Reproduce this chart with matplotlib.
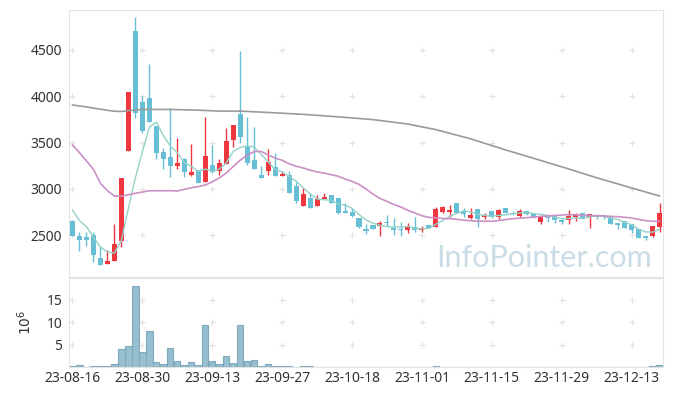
import matplotlib.pyplot as plt
import numpy as np
import pandas as pd

# daily candles, 85 trading days (index 0 = 23-08-16)
opens = [2657, 2490, 2480, 2500, 2254, 2189, 2224, 2440, 3413, 4705,
         3938, 3982, 3679, 3398, 3344, 3247, 3323, 3150, 3204, 3074,
         3258, 3193, 3269, 3528, 3809, 3452, 3312, 3150, 3193, 3236,
         3139, 3150, 3031, 2815, 2902, 2815, 2891, 2934, 2902, 2761,
         2750, 2682, 2570, 2607, 2599, 2639, 2578, 2570, 2560, 2585,
         2553, 2607, 2592, 2750, 2750, 2844, 2765, 2686, 2780, 2693,
         2758, 2700, 2794, 2744, 2711, 2758, 2744, 2646, 2697, 2704,
         2661, 2661, 2697, 2736, 2700, 2718, 2718, 2704, 2635, 2650,
         2625, 2570, 2495, 2495, 2592]
highs = [2660, 2534, 2534, 2534, 2372, 2340, 2617, 3114, 4046, 4856,
         4003, 4349, 3679, 3442, 3874, 3550, 3334, 3485, 3204, 3776,
         3474, 3320, 3654, 3690, 4489, 3776, 3668, 3247, 3431, 3388,
         3193, 3193, 3074, 3006, 2955, 2934, 2955, 2934, 2902, 2848,
         2794, 2682, 2621, 2607, 2653, 2718, 2682, 2646, 2628, 2700,
         2600, 2607, 2801, 2815, 2829, 2844, 2790, 2790, 2780, 2740,
         2758, 2783, 2794, 2758, 2783, 2758, 2744, 2711, 2711, 2711,
         2682, 2772, 2740, 2736, 2729, 2733, 2718, 2704, 2635, 2650,
         2625, 2570, 2495, 2596, 2844]
lows = [2490, 2329, 2383, 2210, 2178, 2189, 2224, 2369, 3413, 3762,
        3604, 3722, 3323, 3215, 3128, 3215, 3125, 3139, 3064, 3074,
        3171, 3150, 3269, 3450, 3496, 3258, 3215, 3118, 3150, 3139,
        3139, 2955, 2848, 2815, 2794, 2815, 2891, 2847, 2729, 2740,
        2696, 2575, 2510, 2564, 2495, 2603, 2502, 2491, 2524, 2538,
        2535, 2575, 2592, 2740, 2700, 2736, 2700, 2672, 2588, 2672,
        2682, 2672, 2736, 2722, 2700, 2722, 2682, 2621, 2639, 2628,
        2621, 2621, 2653, 2672, 2582, 2672, 2672, 2618, 2570, 2578,
        2520, 2466, 2450, 2484, 2531]
closes = [2495, 2448, 2450, 2286, 2178, 2221, 2402, 3114, 4046, 3823,
          3625, 3722, 3388, 3323, 3247, 3280, 3182, 3182, 3064, 3355,
          3182, 3280, 3517, 3690, 3560, 3280, 3215, 3118, 3290, 3139,
          3161, 2955, 2869, 2945, 2794, 2891, 2912, 2847, 2740, 2740,
          2707, 2585, 2549, 2564, 2635, 2628, 2553, 2560, 2596, 2553,
          2578, 2582, 2780, 2804, 2772, 2736, 2729, 2715, 2672, 2715,
          2693, 2772, 2744, 2732, 2758, 2732, 2693, 2704, 2682, 2661,
          2646, 2711, 2726, 2672, 2729, 2700, 2693, 2618, 2614, 2578,
          2553, 2466, 2466, 2596, 2736]
# volume in millions
volume = [0.15, 0.37, 0.05, 0.15, 0.15, 0.15, 0.6, 3.9, 4.6, 18.0,
          3.3, 8.1, 1.1, 0.67, 4.15, 1.33, 0.44, 1.1, 0.44, 9.3,
          1.3, 0.67, 2.4, 0.9, 9.3, 1.3, 1.55, 0.2, 0.67, 0.2,
          0.2, 0.2, 0.05, 0.2, 0.2, 0.02, 0.02, 0.02, 0.02, 0.02,
          0.02, 0.02, 0.02, 0.02, 0.02, 0.02, 0.02, 0.02, 0.02, 0.02,
          0.02, 0.02, 0.2, 0.02, 0.02, 0.02, 0.02, 0.02, 0.02, 0.02,
          0.02, 0.02, 0.02, 0.02, 0.02, 0.02, 0.02, 0.02, 0.02, 0.02,
          0.02, 0.02, 0.02, 0.02, 0.02, 0.02, 0.02, 0.02, 0.02, 0.02,
          0.02, 0.02, 0.02, 0.2, 0.4]

# moving average values before enough history is on screen
ma5_head = [2772, 2657, 2592, 2477]
ma20_head = [3474, 3391, 3301, 3211, 3060, 2980, 2923, 2920, 2937, 2952,
             2966, 2980, 2980, 2980, 2980, 2977, 2995, 3012, 3024]
# long moving average (grey), sampled
ma_long_idx = [0, 2, 4, 6, 7, 8, 10, 14, 18, 21, 24, 28, 33, 38, 43, 48,
               52, 57, 62, 66, 71, 75, 80, 84]
ma_long_val = [3906, 3885, 3860, 3838, 3836, 3845, 3858, 3858, 3850, 3840,
               3840, 3825, 3805, 3778, 3748, 3700, 3640, 3540, 3420, 3330,
               3215, 3120, 3010, 2923]

tick_pos = [0, 10, 20, 30, 40, 50, 60, 70, 80]
tick_labels = ['23-08-16', '23-08-30', '23-09-13', '23-09-27', '23-10-18',
               '23-11-01', '23-11-15', '23-11-29', '23-12-13']
price_ticks = [2500, 3000, 3500, 4000, 4500]
vol_ticks = [5, 10, 15]

UP = '#ef3740'
DOWN = '#67bfd6'
FRAME = '#e3e3e3'

plt.rcParams['font.family'] = ['Noto Sans', 'DejaVu Sans']

x = np.arange(len(closes))
o = np.array(opens)
c = np.array(closes)
close_s = pd.Series(closes, dtype=float)
ma5 = close_s.rolling(5).mean().values
ma5[:4] = ma5_head
ma20 = close_s.rolling(20).mean().values
ma20[:19] = ma20_head

fig = plt.figure(figsize=(6.73, 3.96), dpi=100)
ax = fig.add_axes([69/673, 1 - 277/396, 594/673, 267/396])
axv = fig.add_axes([69/673, 1 - 367/396, 594/673, 89/396])

up = c >= o
colors = np.where(up, UP, DOWN)
ax.vlines(x, lows, highs, color=colors, lw=1, zorder=2)
body = np.maximum(np.abs(c - o), 8)
ax.bar(x, body, bottom=np.minimum(o, c), width=0.72, color=colors, zorder=3)

ax.plot(x, ma5, color='#93d2c8', lw=1.0, zorder=4)
ax.plot(x, ma20, color='#cc8fc6', lw=1.2, zorder=4)
ax.plot(ma_long_idx, ma_long_val, color='#9a9a9a', lw=1.2, zorder=4)

ax.text(0.982, 0.02, 'InfoPointer.com', transform=ax.transAxes, ha='right',
        va='bottom', fontsize=22, color='#cadce6', family='Lato', zorder=1)

axv.bar(x, volume, width=0.9, color='#97bfcf', edgecolor='#7fa9bd', lw=0.8)

for a, yt in ((ax, price_ticks), (axv, vol_ticks)):
    gx, gy = np.meshgrid(tick_pos, yt)
    a.plot(gx.ravel(), gy.ravel(), '+', color='#e2e2e2', ms=4, mew=0.8, zorder=0)
    a.set_xlim(-0.5, 84.5)
    a.set_yticks(yt)
    a.tick_params(length=0, labelsize=10, labelcolor='#333333', pad=5)
    for s in a.spines.values():
        s.set_color(FRAME)

ax.set_ylim(2048, 4932)
ax.set_xticks([])
axv.set_ylim(0, 19.8)
axv.set_xticks(tick_pos)
axv.set_xticklabels(tick_labels)
axv.tick_params(axis='x', pad=3)
axv.set_ylabel('$10^6$', fontsize=10, color='#333333', labelpad=8)

fig.savefig('out.png', dpi=100)
